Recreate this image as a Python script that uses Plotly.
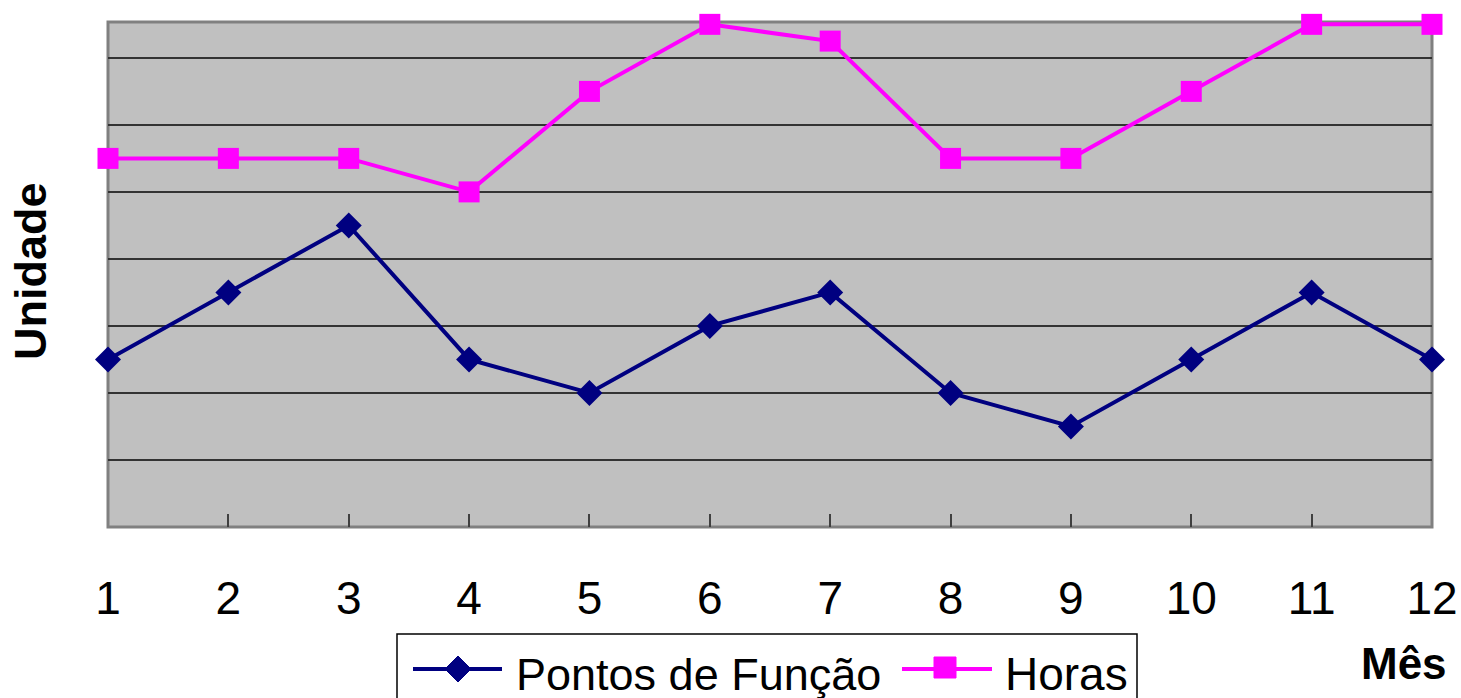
import plotly.graph_objects as go

# ---- data ----
meses = [1, 2, 3, 4, 5, 6, 7, 8, 9, 10, 11, 12]
mes_labels = ["1", "2", "3", "4", "5", "6", "7", "8", "9", "10", "11", "12"]
pontos_funcao = [50, 70, 90, 50, 40, 60, 70, 40, 30, 50, 70, 50]
horas = [110, 110, 110, 100, 130, 150, 145, 110, 110, 130, 150, 150]

W, H = 1461, 698
L, R, T, B = 108, 1432, 22, 527  # plot area in px


def px(x):
    return (x - L) / (R - L)


def py(y):
    return (B - y) / (B - T)


NAVY = "#000080"
MAG = "#FF00FF"
FONT = "Arial, Liberation Sans, sans-serif"

fig = go.Figure()
fig.add_trace(go.Scatter(
    x=meses, y=pontos_funcao, mode="lines+markers", name="Pontos de Função",
    line=dict(color=NAVY, width=4),
    marker=dict(symbol="diamond", size=20, color=NAVY),
    cliponaxis=False, showlegend=False))
fig.add_trace(go.Scatter(
    x=meses, y=horas, mode="lines+markers", name="Horas",
    line=dict(color=MAG, width=4),
    marker=dict(symbol="square", size=21, color=MAG),
    cliponaxis=False, showlegend=False))

shapes = []
# plot-area frame
shapes.append(dict(type="rect", xref="paper", yref="paper", x0=0, x1=1, y0=0, y1=1,
                   line=dict(color="#808080", width=3), layer="below"))
# manual legend box
shapes.append(dict(type="rect", xref="paper", yref="paper",
                   x0=px(397), x1=px(1137), y0=py(740), y1=py(634),
                   line=dict(color="black", width=1.5), fillcolor="white", layer="above"))
# legend samples
shapes.append(dict(type="line", xref="paper", yref="paper",
                   x0=px(413), x1=px(502), y0=py(669), y1=py(669),
                   line=dict(color=NAVY, width=4), layer="above"))
cx, cy, r = 458, 669, 13
shapes.append(dict(type="path", xref="paper", yref="paper",
                   path=f"M {px(cx-r)},{py(cy)} L {px(cx)},{py(cy-r)} L {px(cx+r)},{py(cy)} L {px(cx)},{py(cy+r)} Z",
                   fillcolor=NAVY, line=dict(color=NAVY, width=1), layer="above"))
shapes.append(dict(type="line", xref="paper", yref="paper",
                   x0=px(902), x1=px(992), y0=py(669), y1=py(669),
                   line=dict(color=MAG, width=4), layer="above"))
shapes.append(dict(type="rect", xref="paper", yref="paper",
                   x0=px(934), x1=px(956), y0=py(678), y1=py(657),
                   fillcolor=MAG, line=dict(color=MAG, width=1), layer="above"))

annotations = [
    dict(text="<b>Unidade</b>", xref="paper", yref="paper", x=px(30), y=py(271),
         showarrow=False, textangle=-90, xanchor="center", yanchor="middle",
         font=dict(family=FONT, size=45, color="black")),
    dict(text="<b>Mês</b>", xref="paper", yref="paper", x=px(1404), y=py(663),
         showarrow=False, xanchor="center", yanchor="middle",
         font=dict(family=FONT, size=44, color="black")),
    dict(text="Pontos de Função", xref="paper", yref="paper", x=px(514), y=py(674),
         showarrow=False, xanchor="left", yanchor="middle",
         font=dict(family=FONT, size=45, color="black")),
    dict(text="Horas", xref="paper", yref="paper", x=px(1003), y=py(674),
         showarrow=False, xanchor="left", yanchor="middle",
         font=dict(family=FONT, size=46, color="black")),
]

fig.update_layout(
    width=W, height=H, autosize=False,
    margin=dict(l=L, r=W - R, t=T, b=H - B, pad=0, autoexpand=False),
    paper_bgcolor="white", plot_bgcolor="#C0C0C0",
    showlegend=False, shapes=shapes, annotations=annotations,
    font=dict(family=FONT, color="black"),
)
fig.update_xaxes(
    range=[1, 12], tickvals=meses, ticktext=mes_labels, automargin=False,
    ticks="inside", ticklen=13, tickwidth=1.5, tickcolor="#404040",
    showgrid=False, zeroline=False, showline=False,
    tickfont=dict(family=FONT, size=46, color="black"), ticklabelstandoff=40,
)
fig.update_yaxes(
    range=[0, 150.7], tick0=0, dtick=20, showticklabels=False, automargin=False,
    showgrid=True, gridcolor="#333333", gridwidth=1.5,
    zeroline=False, showline=False, ticks="",
)

fig.write_html("out.html", config={"displayModeBar": False},
               post_script="document.body.style.margin='0';document.body.style.overflow='hidden';")
